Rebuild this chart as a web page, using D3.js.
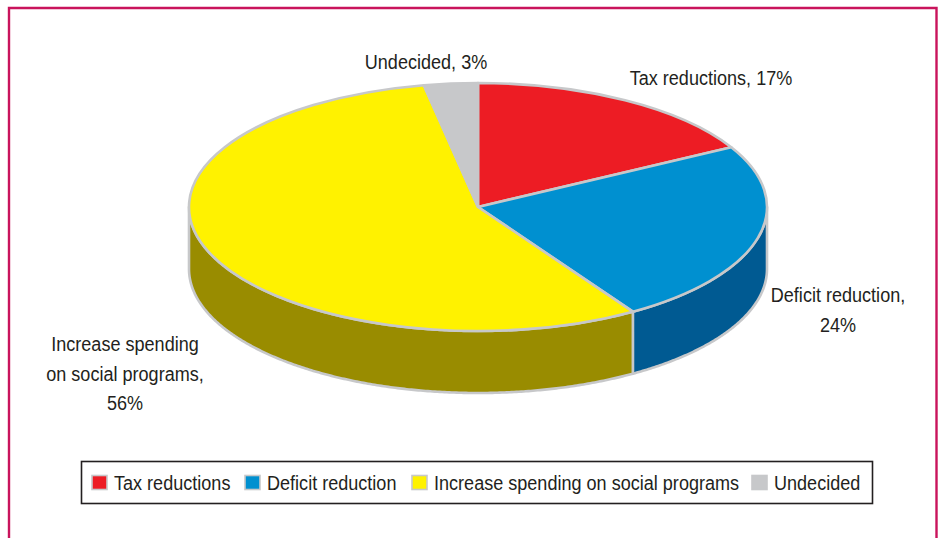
<!DOCTYPE html>
<html><head><meta charset="utf-8">
<script src="https://cdn.jsdelivr.net/npm/d3@7"></script>
<style>html,body{margin:0;padding:0;background:#fff}svg{display:block}
text{font-family:"Liberation Sans",sans-serif;fill:#231f20;font-size:21px}</style>
</head><body>
<script>
const categories = ["Tax reductions","Deficit reduction","Increase spending on social programs","Undecided"];
const shares = [17,24,56,3];
const topColors = ["#ed1c24","#0090d0","#fff200","#c7c8ca"];
const sideColors = ["#8a1015","#005a92","#998c00","#8f9092"];
const W=939,H=538,cx=478,cy=207,rx=289,ry=124,depth=62,narrow=0.86;
const svg=d3.select("body").append("svg").attr("width",W).attr("height",H);
// frame
svg.append("path").attr("d",d3.line()([[9,H],[9,8],[936.5,8],[936.5,H]]))
  .attr("fill","#fff").attr("stroke","#c9145c").attr("stroke-width",2.4);

const pie=d3.pie().value(d=>d).sort(null);
const arcs=pie(shares);
const px=a=>cx+rx*Math.sin(a), py=a=>cy-ry*Math.cos(a);
const wall=d3.area().x(px).y0(py).y1(a=>py(a)+depth);
const edgeStroke="#c7c8ca";
// side walls (only the front half is visible)
arcs.forEach((d,i)=>{
  const a0=Math.max(d.startAngle,Math.PI/2), a1=Math.min(d.endAngle,Math.PI*1.5);
  if(a1<=a0) return;
  const n=Math.max(4,Math.ceil((a1-a0)*120));
  const pts=d3.range(n+1).map(k=>a0+(a1-a0)*k/n);
  svg.append("path").attr("d",wall(pts)).attr("fill",sideColors[i])
    .attr("stroke",edgeStroke).attr("stroke-width",2.6).attr("stroke-linejoin","round");
});
// top slices
const arc=d3.arc().innerRadius(0).outerRadius(rx);
const topFace=svg.append("g").attr("transform",`translate(${cx},${cy}) scale(1,${ry/rx})`);
topFace.selectAll("path").data(arcs).join("path").attr("d",arc)
  .attr("fill",(d,i)=>topColors[i]).attr("stroke",edgeStroke).attr("stroke-width",2.6)
  .attr("stroke-linejoin","round").attr("vector-effect","non-scaling-stroke");
// data labels
const labelLines=[["Tax reductions, 17%"],["Deficit reduction,","24%"],["Increase spending","on social programs,","56%"],["Undecided, 3%"]];
const labelAnchor=[[711,85],[838,302],[125,351],[426,69]];
const lineGap=29.5;
labelLines.forEach((ls,i)=>{
  ls.forEach((s,k)=>svg.append("text").attr("text-anchor","middle")
    .attr("transform",`translate(${labelAnchor[i][0]},${labelAnchor[i][1]+k*lineGap}) scale(${narrow},1)`).text(s));
});
// legend
svg.append("rect").attr("x",81.5).attr("y",461.5).attr("width",791).attr("height",42)
  .attr("fill","#fff").attr("stroke","#231f20").attr("stroke-width",1.6);
const swatchX=[91,244,411,751];
categories.forEach((c,i)=>{
  svg.append("rect").attr("x",swatchX[i]+1).attr("y",475.5).attr("width",15).attr("height",14)
    .attr("fill",topColors[i]).attr("stroke",edgeStroke).attr("stroke-width",1.6);
  svg.append("text").attr("transform",`translate(${swatchX[i]+23},490) scale(${narrow},1)`).text(c);
});
</script>
</body></html>
